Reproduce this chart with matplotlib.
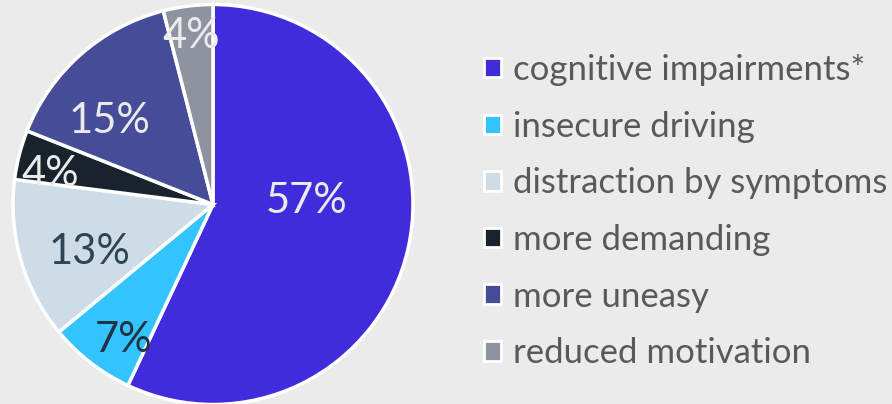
import matplotlib
matplotlib.use("Agg")
import matplotlib.pyplot as plt
from matplotlib.patches import Patch
import numpy as np

plt.rcParams['font.family'] = ['Lato', 'DejaVu Sans']

categories = ["cognitive impairments*", "insecure driving", "distraction by symptoms",
              "more demanding", "more uneasy", "reduced motivation"]
shares = [57, 7, 13, 4, 15, 4]
colors = ["#412CDC", "#33C3FE", "#CEDCE7", "#18232D", "#464C97", "#8E939F"]
label_colors = ["#EBEBEB", "#1F3345", "#2E4556", "#EBEBEB", "#EBEBEB", "#EBEBEB"]
# label placement: radius (fraction of pie) and angle shift in degrees
label_radius = [0.47, 0.80, 0.66, 0.83, 0.67, 0.86]
label_shift = [16, 4, 4, 3, 9, 0]

bg = "#EBEBEB"
fig = plt.figure(figsize=(8.92, 4.04), dpi=100, facecolor=bg)
W, H = 892, 404
cx, cy, r = 213, 204.5, 200
ax = fig.add_axes([(cx - r) / W, (H - cy - r) / H, 2 * r / W, 2 * r / H])
ax.set_facecolor(bg)

wedges, _ = ax.pie(shares, colors=colors, startangle=90, counterclock=False,
                   radius=1.0, wedgeprops=dict(edgecolor="white", linewidth=2.5))
for w in wedges:
    w.set_clip_on(False)

total = sum(shares)
start = 90.0
for v, rr, sh, tc in zip(shares, label_radius, label_shift, label_colors):
    span = 360.0 * v / total
    mid = np.radians(start - span / 2 + sh)
    ax.text(rr * np.cos(mid), rr * np.sin(mid) - 0.012, f"{v}%", ha="center", va="center",
            fontsize=30, color=tc)
    start -= span

ax.set_xlim(-1, 1)
ax.set_ylim(-1, 1)
ax.set_aspect("equal")
ax.axis("off")

handles = [Patch(facecolor=c, edgecolor="white", linewidth=2) for c in colors]
fig.legend(handles, categories, loc="upper left", bbox_to_anchor=(484 / W, 1 - 54 / H),
           frameon=False, fontsize=25, labelcolor="#595959", handlelength=0.49,
           handleheight=0.49, handletextpad=0.35, labelspacing=0.71,
           borderaxespad=0, borderpad=0)

fig.savefig("out.png", dpi=100, facecolor=bg)
